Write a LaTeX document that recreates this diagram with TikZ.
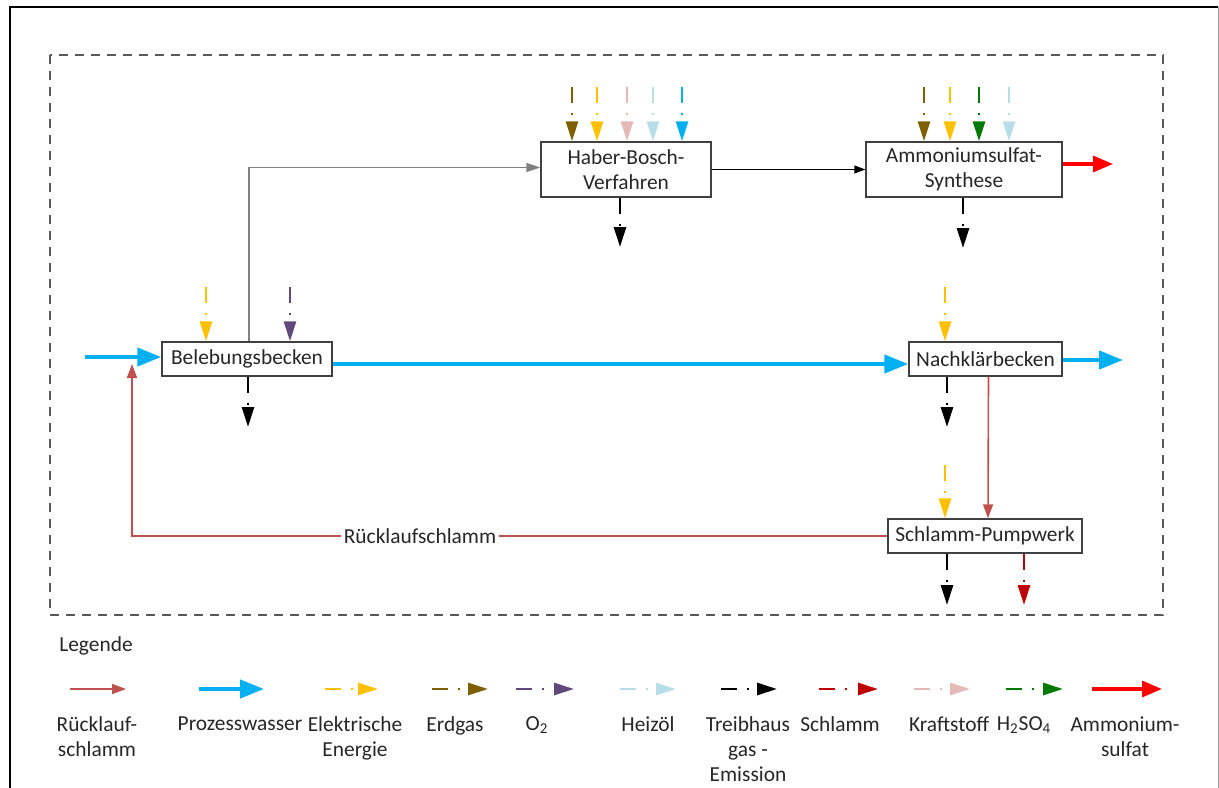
\documentclass[tikz,border=0pt]{standalone}
\usepackage{fontspec}
\setmainfont{Carlito}
\usetikzlibrary{arrows.meta,calc}
\definecolor{cwater}{HTML}{00B0F0}
\definecolor{cbrown}{HTML}{7F6000}
\definecolor{cyel}{HTML}{FFC000}
\definecolor{cpink}{HTML}{E6B9B8}
\definecolor{clblue}{HTML}{B7DEE8}
\definecolor{cpurple}{HTML}{5F497A}
\definecolor{cgreen}{HTML}{007A00}
\definecolor{cdred}{HTML}{C00000}
\definecolor{cred}{HTML}{FF0000}
\definecolor{crueck}{HTML}{C0504D}
\definecolor{ctext}{HTML}{262626}
\begin{document}
\begin{tikzpicture}[x=0.5pt,y=-0.5pt,
  font=\fontsize{10.7}{12.6}\selectfont,
  box/.style={draw=black!75, line width=0.7pt, fill=white, align=center, inner sep=0pt, text=ctext},
  lab/.style={align=center, inner sep=0pt, text=ctext},
  dd/.style={draw=#1, line width=1.4pt, dash pattern=on 8pt off 5pt on 1pt off 40pt, -{Triangle[length=10pt,width=6pt,fill=#1]}},
  water/.style={draw=cwater, line width=2.2pt, -{Triangle[length=12pt,width=9pt]}},
  product/.style={draw=cred, line width=1.6pt, -{Triangle[length=10pt,width=8pt]}},
  rueck/.style={draw=crueck, line width=0.8pt, -{Triangle[length=7pt,width=5pt]}},
  grayarr/.style={draw=black!50, line width=0.7pt, -{Triangle[length=7pt,width=4.5pt]}},
  blkarr/.style={draw=black, line width=0.7pt, -{Triangle[length=5.5pt,width=4pt]}}
]
\useasboundingbox (0,0) rectangle (1219,787);
% frames
\draw[black, line width=1.1pt] (10,790) -- (10,7) -- (1218,7);
\draw[black!40, line width=0.5pt] (1218,7) -- (1218,790);
\draw[black!65, line width=0.8pt, dash pattern=on 4.5pt off 3.5pt] (50,55) rectangle (1163,615);

% process nodes
\node[box, minimum width=85pt, minimum height=17pt] (bb) at (247,359) {Belebungsbecken};
\node[box, minimum width=85pt, minimum height=27.5pt] (hb) at (626,169.5) {Haber-Bosch-\\Verfahren};
\node[box, minimum width=98pt, minimum height=27.5pt] (as) at (964,169.5) {Ammoniumsulfat-\\Synthese};
\node[box, minimum width=76.5pt, minimum height=17pt] (nk) at (985.5,359) {Nachklärbecken};
\node[box, minimum width=97pt, minimum height=17pt] (pw) at (985,536) {Schlamm-Pumpwerk};

% free-end coordinates
\coordinate (win) at (85,357);
\coordinate (wout) at (1123,360);
\coordinate (aout) at (1113,164);
\coordinate (rc) at (132,364);
\coordinate (h1) at (572,87);
\coordinate (h2) at (597,87);
\coordinate (h3) at (627,87);
\coordinate (h4) at (653,87);
\coordinate (h5) at (682,87);
\coordinate (a1) at (924,87);
\coordinate (a2) at (950,87);
\coordinate (a3) at (979,87);
\coordinate (a4) at (1009,87);
\coordinate (b1) at (206,287);
\coordinate (b2) at (290,287);
\coordinate (n1) at (945,287);
\coordinate (p1) at (945,465);
\coordinate (ob) at (248,427);
\coordinate (oh) at (620,247);
\coordinate (oa) at (963,248);
\coordinate (on) at (947,427);
\coordinate (op) at (947,605);
\coordinate (os) at (1024,605);

% main flows
\draw[water] (win) -- (win -| bb.west);
\draw[water] ($(bb.east)+(0,5)$) -- ($(nk.west)+(0,5)$);
\draw[water] (nk.east |- wout) -- (wout);
\draw[grayarr] ($(bb.north)+(2,0)$) |- ($(hb.west)+(0,-2)$);
\draw[blkarr] (hb.east) -- (as.west);
\draw[product] (as.east |- aout) -- (aout);
\draw[rueck] ($(nk.south)+(3,0)$) -- ($(pw.north)+(3,0)$);
\draw[rueck] (pw.west) -| (rc);
\node[lab, fill=white, inner sep=1.5pt] (rl) at (420,536) {Rücklaufschlamm};

% inputs
\draw[dd=cbrown] (h1) -- (h1 |- hb.north);
\draw[dd=cyel] (h2) -- (h2 |- hb.north);
\draw[dd=cpink] (h3) -- (h3 |- hb.north);
\draw[dd=clblue] (h4) -- (h4 |- hb.north);
\draw[dd=cwater] (h5) -- (h5 |- hb.north);
\draw[dd=cbrown] (a1) -- (a1 |- as.north);
\draw[dd=cyel] (a2) -- (a2 |- as.north);
\draw[dd=cgreen] (a3) -- (a3 |- as.north);
\draw[dd=clblue] (a4) -- (a4 |- as.north);
\draw[dd=cyel] (b1) -- (b1 |- bb.north);
\draw[dd=cpurple] (b2) -- (b2 |- bb.north);
\draw[dd=cyel] (n1) -- (n1 |- nk.north);
\draw[dd=cyel] (p1) -- (p1 |- pw.north);
% outputs
\draw[dd=black] (ob |- bb.south) -- (ob);
\draw[dd=black] (oh |- hb.south) -- (oh);
\draw[dd=black] (oa |- as.south) -- (oa);
\draw[dd=black] (on |- nk.south) -- (on);
\draw[dd=black] (op |- pw.south) -- (op);
\draw[dd=cdred] (os |- pw.south) -- (os);

% legend
\node[lab] (leg) at (96,646) {Legende};
\path (70,689) coordinate (l1a) (126,689) coordinate (l1b)
      (199,689) coordinate (l2a) (264,689) coordinate (l2b)
      (325,689) coordinate (l3a) (378,689) coordinate (l3b)
      (432,689) coordinate (l4a) (488,689) coordinate (l4b)
      (516,689) coordinate (l5a) (574,689) coordinate (l5b)
      (620,689) coordinate (l6a) (676,689) coordinate (l6b)
      (721,689) coordinate (l7a) (777,689) coordinate (l7b)
      (819,689) coordinate (l8a) (878,689) coordinate (l8b)
      (914,689) coordinate (l9a) (970,689) coordinate (l9b)
      (1006,689) coordinate (l10a) (1063,689) coordinate (l10b)
      (1092,689) coordinate (l11a) (1162,689) coordinate (l11b);
\draw[rueck] (l1a) -- (l1b);
\draw[water] (l2a) -- (l2b);
\draw[dd=cyel] (l3a) -- (l3b);
\draw[dd=cbrown] (l4a) -- (l4b);
\draw[dd=cpurple] (l5a) -- (l5b);
\draw[dd=clblue] (l6a) -- (l6b);
\draw[dd=black] (l7a) -- (l7b);
\draw[dd=cdred] (l8a) -- (l8b);
\draw[dd=cpink] (l9a) -- (l9b);
\draw[dd=cgreen] (l10a) -- (l10b);
\draw[product] (l11a) -- (l11b);

\node[lab, anchor=north] (t1) at (97,716) {Rücklauf-\\schlamm};
\node[lab, anchor=north] (t2) at (240,716) {Prozesswasser};
\node[lab, anchor=north] (t3) at (355,716) {Elektrische\\Energie};
\node[lab, anchor=north] (t4) at (455,716) {Erdgas};
\node[lab, anchor=north] (t5) at (537,716) {O\textsubscript{2}};
\node[lab, anchor=north] (t6) at (648,716) {Heizöl};
\node[lab, anchor=north] (t7) at (748,716) {Treibhaus\\gas -\\Emission};
\node[lab, anchor=north] (t8) at (840,716) {Schlamm};
\node[lab, anchor=north] (t9) at (949,716) {Kraftstoff};
\node[lab, anchor=north] (t10) at (1024,716) {H\textsubscript{2}SO\textsubscript{4}};
\node[lab, anchor=north] (t11) at (1125,716) {Ammonium-\\sulfat};
\end{tikzpicture}
\end{document}
